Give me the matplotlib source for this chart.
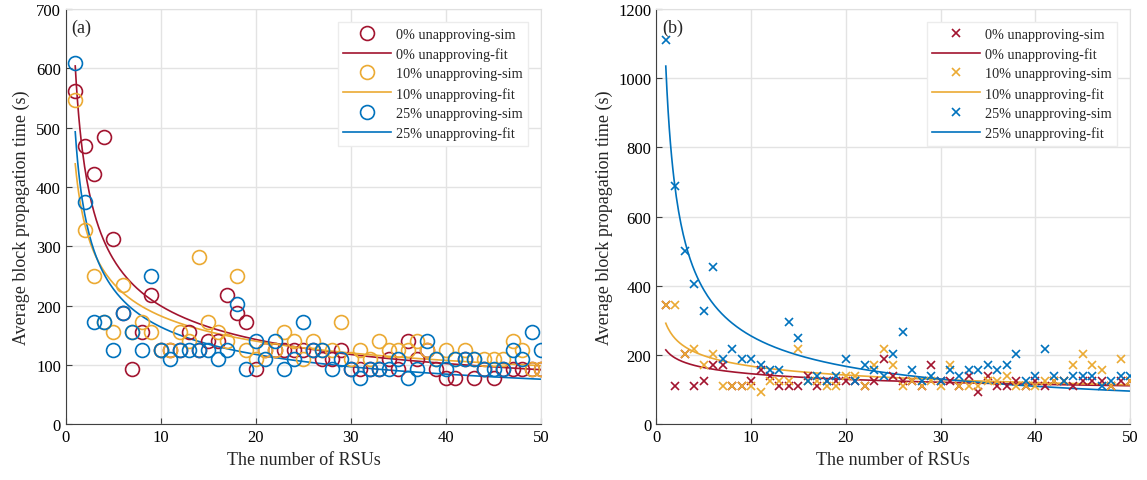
import matplotlib
matplotlib.use("Agg")
import matplotlib.pyplot as plt
import numpy as np

plt.rcParams["font.family"] = ["Liberation Serif", "DejaVu Serif"]
plt.rcParams["mathtext.fontset"] = "stix"

RED = "#A2142F"
ORANGE = "#EBAA33"
BLUE = "#0072BD"

rsus = np.arange(1, 51)
labels = ["0% unapproving", "10% unapproving", "25% unapproving"]

# (a) simulated block propagation times (s)
a_sim_0 = [562.5, 468.75, 421.9, 484.4, 312.5, 187.5, 93.75, 156.25, 218.75, 125,
           125, 125, 156.25, 125, 140.6, 140.6, 218.75, 187.5, 171.9, 93.75,
           125, 125, 125, 125, 125, 125, 109.4, 109.4, 125, 93.75,
           93.75, 93.75, 93.75, 109.4, 93.75, 140.6, 109.4, 125, 93.75, 78.1,
           78.1, 109.4, 78.1, 93.75, 78.1, 93.75, 93.75, 93.75, 93.75, 93.75]
a_sim_10 = [546.9, 328.1, 250, 171.9, 156.25, 234.4, 156.25, 171.9, 156.25, 125,
            125, 156.25, 140.6, 281.25, 171.9, 156.25, 140.6, 250, 125, 109.4,
            125, 125, 156.25, 140.6, 109.4, 140.6, 125, 125, 171.9, 109.4,
            125, 109.4, 140.6, 125, 125, 125, 140.6, 125, 109.4, 125,
            109.4, 125, 109.4, 109.4, 109.4, 109.4, 140.6, 125, 93.75, 93.75]
a_sim_25 = [609.4, 375, 171.9, 171.9, 125, 187.5, 156.25, 125, 250, 125,
            109.4, 125, 125, 125, 125, 109.4, 125, 203.1, 93.75, 140.6,
            109.4, 140.6, 93.75, 109.4, 171.9, 125, 125, 93.75, 109.4, 93.75,
            78.1, 93.75, 93.75, 93.75, 109.4, 78.1, 93.75, 140.6, 109.4, 93.75,
            109.4, 109.4, 109.4, 93.75, 93.75, 93.75, 125, 109.4, 156.25, 125]

# (b) simulated block propagation times (s)
b_sim_0 = [343.75, 109.4, 203.1, 109.4, 125, 171.9, 171.9, 109.4, 109.4, 125,
           156.25, 140.6, 109.4, 109.4, 109.4, 140.6, 109.4, 125, 125, 125,
           125, 109.4, 125, 187.5, 140.6, 125, 125, 109.4, 171.9, 125,
           125, 109.4, 140.6, 93.75, 140.6, 109.4, 109.4, 125, 109.4, 125,
           109.4, 125, 125, 109.4, 125, 125, 125, 109.4, 125, 125]
b_sim_10 = [343.75, 343.75, 203.1, 218.75, 171.9, 203.1, 109.4, 109.4, 109.4, 109.4,
            93.75, 125, 125, 125, 218.75, 125, 125, 109.4, 109.4, 140.6,
            140.6, 109.4, 171.9, 218.75, 171.9, 109.4, 125, 109.4, 125, 109.4,
            171.9, 109.4, 109.4, 109.4, 125, 125, 140.6, 109.4, 109.4, 109.4,
            125, 125, 125, 171.9, 203.1, 171.9, 156.25, 109.4, 187.5, 125]
b_sim_25 = [1109.4, 687.5, 500, 406.25, 328.1, 453.1, 187.5, 218.75, 187.5, 187.5,
            171.9, 156.25, 156.25, 296.9, 250, 125, 140.6, 125, 140.6, 187.5,
            125, 171.9, 156.25, 140.6, 203.1, 265.6, 156.25, 125, 140.6, 125,
            156.25, 140.6, 156.25, 156.25, 171.9, 156.25, 171.9, 203.1, 125, 140.6,
            218.75, 140.6, 125, 140.6, 140.6, 140.6, 109.4, 125, 140.6, 140.6]

# power-law fit t = A * n^B
a_fit_A = [604, 439, 493]
a_fit_B = [-0.481, -0.381, -0.478]
b_fit_A = [215, 292, 1035]
b_fit_B = [-0.168, -0.240, -0.608]

colors = [RED, ORANGE, BLUE]


def draw_panel(ax, sims, fit_A, fit_B, marker, ylim, yticks, tag):
    n_fine = np.linspace(1, 50, 400)
    for sim, A, B, color, label in zip(sims, fit_A, fit_B, colors, labels):
        if marker == "o":
            ax.plot(rsus, sim, linestyle="none", marker="o", markersize=10,
                    markerfacecolor="none", markeredgecolor=color, markeredgewidth=1.2,
                    label=f"{label}-sim", zorder=3)
        else:
            ax.plot(rsus, sim, linestyle="none", marker="x", markersize=6,
                    markeredgecolor=color, markeredgewidth=1.2,
                    label=f"{label}-sim", zorder=3)
        ax.plot(n_fine, A * n_fine ** B, color=color, linewidth=1.2,
                label=f"{label}-fit", zorder=2)

    ax.set_xlim(0, 50)
    ax.set_ylim(*ylim)
    ax.set_xticks(np.arange(0, 51, 10))
    ax.set_yticks(yticks)
    ax.grid(True, color="#e3e3e3", linewidth=1.0)
    ax.set_axisbelow(True)
    ax.tick_params(direction="in", labelsize=12, length=4, color="#404040")
    for side in ["top", "right"]:
        ax.spines[side].set_color("#e0e0e0")
    for side in ["left", "bottom"]:
        ax.spines[side].set_color("#404040")
    ax.set_xlabel("The number of RSUs", fontsize=13, color="#262626")
    ax.set_ylabel("Average block propagation time (s)", fontsize=13, color="#262626")
    ax.text(0.012, 0.955, tag, transform=ax.transAxes, fontsize=13,
            va="center", ha="left", color="#262626")
    leg = ax.legend(loc="upper right", fontsize=10.3, handlelength=3.3,
                    handletextpad=0.35, labelspacing=0.45, borderaxespad=0.9,
                    frameon=True, fancybox=False, edgecolor="#ececec",
                    framealpha=1.0)
    for text in leg.get_texts():
        text.set_color("#262626")


fig = plt.figure(figsize=(11.47, 4.81), dpi=100)
ax1 = fig.add_axes([0.0573, 0.1158, 0.4144, 0.8634])
ax2 = fig.add_axes([0.5722, 0.1158, 0.4130, 0.8634])

draw_panel(ax1, [a_sim_0, a_sim_10, a_sim_25], a_fit_A, a_fit_B, "o",
           (0, 700), np.arange(0, 701, 100), "(a)")
draw_panel(ax2, [b_sim_0, b_sim_10, b_sim_25], b_fit_A, b_fit_B, "x",
           (0, 1200), np.arange(0, 1201, 200), "(b)")

fig.savefig("out.png", dpi=100)
